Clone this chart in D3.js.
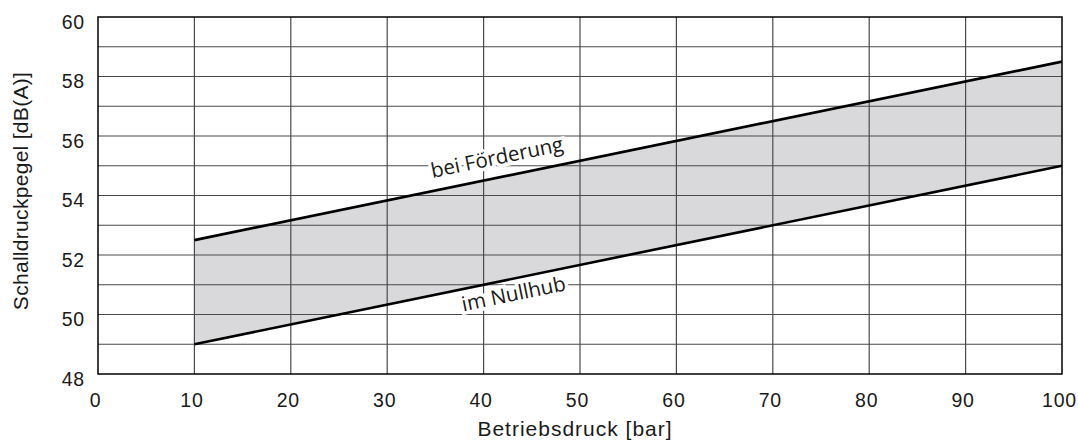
<!DOCTYPE html>
<html lang="de">
<head>
<meta charset="UTF-8">
<title>Schalldruckpegel</title>
<script src="https://cdn.jsdelivr.net/npm/d3@7"></script>
<style>
  html, body { margin: 0; background: #fff; overflow: hidden; }
  svg { display: block; }
</style>
</head>
<body>
<svg id="mainsvg" width="1078" height="442"></svg>
<script>
// data
const pressure = [10, 100];               // Betriebsdruck [bar]
const foerderung = [52.5, 58.5];          // upper line, bei Förderung
const nullhub = [49, 55];                 // lower line, im Nullhub
const xTicks = [0, 10, 20, 30, 40, 50, 60, 70, 80, 90, 100];
const yTicks = [48, 50, 52, 54, 56, 58, 60];
const yGrid = [49, 50, 51, 52, 53, 54, 55, 56, 57, 58, 59];

const svg = d3.select('#mainsvg');
const margin = { top: 17, right: 16, bottom: 68, left: 98 };
const width = +svg.attr('width'), height = +svg.attr('height');
const innerWidth = width - margin.left - margin.right;
const innerHeight = height - margin.top - margin.bottom;
const g = svg.append('g').attr('transform', `translate(${margin.left}, ${margin.top})`);
const sans = '"Liberation Sans", Arial, sans-serif';

const x = d3.scaleLinear().domain([0, 100]).range([0, innerWidth]);
const y = d3.scaleLinear().domain([48, 60]).range([innerHeight, 0]);

const rows = pressure.map((p, i) => ({ p, hi: foerderung[i], lo: nullhub[i] }));

// band between the two lines
g.append('path').datum(rows)
  .attr('fill', '#d9d9db')
  .attr('d', d3.area().x(d => x(d.p)).y0(d => y(d.lo)).y1(d => y(d.hi)));

// grid
g.append('g').selectAll('line').data(yGrid).join('line')
  .attr('x1', 0).attr('x2', innerWidth)
  .attr('y1', d => y(d)).attr('y2', d => y(d))
  .attr('stroke', '#4a4a4a').attr('stroke-width', 1.2);
g.append('g').selectAll('line').data(xTicks.slice(1, -1)).join('line')
  .attr('y1', 0).attr('y2', innerHeight)
  .attr('x1', d => x(d)).attr('x2', d => x(d))
  .attr('stroke', '#4a4a4a').attr('stroke-width', 1.2);

// annotations, white halo breaks the grid
const angle = Math.atan2(y(foerderung[1]) - y(foerderung[0]), x(pressure[1]) - x(pressure[0])) * 180 / Math.PI;
const slope = (foerderung[1] - foerderung[0]) / (pressure[1] - pressure[0]);
function label(txt, px, base, dy) {
  const vy = base + slope * (px - pressure[0]);
  g.append('text')
    .attr('transform', `translate(${x(px)}, ${y(vy)}) rotate(${angle})`)
    .attr('dy', dy)
    .attr('text-anchor', 'middle')
    .style('font-family', '"Open Sans", "Noto Sans", sans-serif')
    .attr('font-size', 20.5)
    .attr('fill', '#1a1a1a')
    .attr('stroke', '#fff').attr('stroke-width', 7)
    .attr('paint-order', 'stroke')
    .text(txt);
}
label('bei Förderung', 41.8, foerderung[0], -13);
label('im Nullhub', 42.8, nullhub[0], 22);

// the two lines
const line = d3.line().x(d => x(d[0])).y(d => y(d[1]));
[foerderung, nullhub].forEach(s => {
  g.append('path').datum(pressure.map((p, i) => [p, s[i]]))
    .attr('fill', 'none').attr('stroke', '#000').attr('stroke-width', 2.6)
    .attr('d', line);
});

// frame
g.append('rect').attr('width', innerWidth).attr('height', innerHeight)
  .attr('fill', 'none').attr('stroke', '#000').attr('stroke-width', 1.5);

// axes
const xAxis = d3.axisBottom(x).tickValues(xTicks).tickSize(0).tickPadding(19);
const yAxis = d3.axisLeft(y).tickValues(yTicks).tickSize(0).tickPadding(13);
const xg = g.append('g').attr('transform', `translate(0, ${innerHeight})`).call(xAxis);
const yg = g.append('g').call(yAxis);
[xg, yg].forEach(a => a.select('.domain').remove());
g.selectAll('.tick text')
  .style('font-family', sans).attr('font-size', 19.5)
  .attr('letter-spacing', 0.8).attr('fill', '#1a1a1a');
xg.selectAll('.tick text').attr('dx', -3);
yg.selectAll('.tick text').attr('dy', '0.57em');

svg.append('text')
  .attr('x', margin.left + innerWidth / 2 - 5).attr('y', 436)
  .attr('text-anchor', 'middle')
  .style('font-family', sans).attr('font-size', 21).attr('letter-spacing', 1)
  .attr('fill', '#1a1a1a')
  .text('Betriebsdruck [bar]');
svg.append('text')
  .attr('transform', `translate(28, 191) rotate(-90)`)
  .attr('text-anchor', 'middle')
  .style('font-family', sans).attr('font-size', 21).attr('letter-spacing', 0.3)
  .attr('fill', '#1a1a1a')
  .text('Schalldruckpegel [dB(A)]');
</script>
</body>
</html>
